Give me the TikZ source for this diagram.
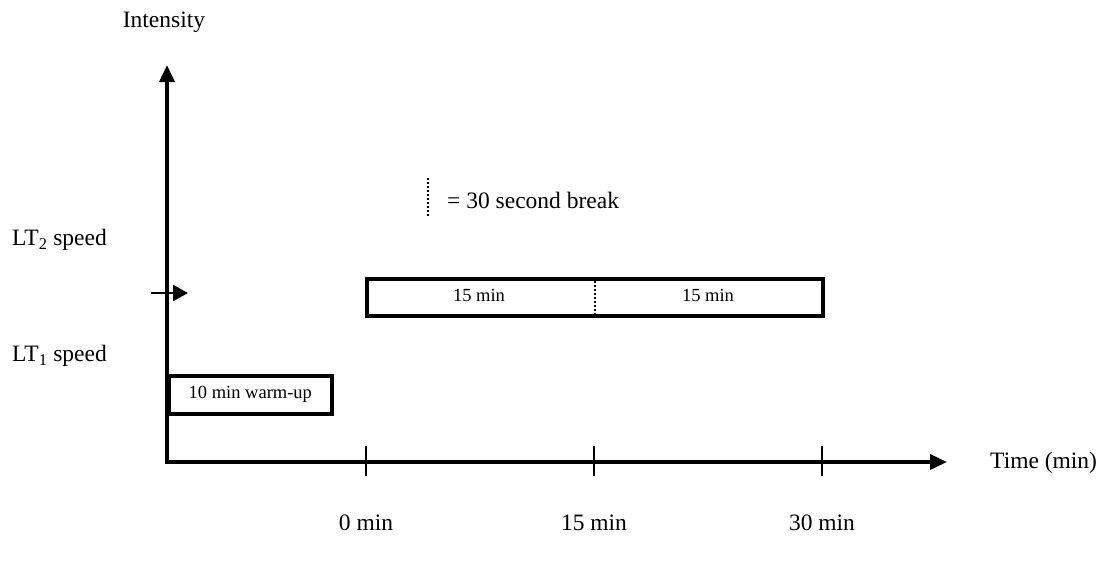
\documentclass[tikz,border=0pt]{standalone}
\usepackage{fontspec}
\setmainfont{Liberation Serif}
\usetikzlibrary{arrows.meta}
\begin{document}
\begin{tikzpicture}[x=1pt,y=-1pt,
  big/.style={font=\fontsize{23.5}{28}\selectfont, inner sep=0pt},
  small/.style={font=\fontsize{18.5}{22}\selectfont, inner sep=0pt},
  axis/.style={line width=3.6pt, -{Triangle[length=17pt,width=15pt]}},
  stage/.style={draw, line width=3.6pt, inner sep=0pt},
  tick/.style={line width=2.4pt},
  breakline/.style={line width=2pt, dash pattern=on 2pt off 2pt}]
\useasboundingbox (0,0) rectangle (1107,563);

% axes
\coordinate (origin) at (167,462);
\coordinate (ytop) at (167,65);
\coordinate (xend) at (947,462);
\draw[axis] (origin) -- (ytop);
\draw[axis, shorten <=-1.8pt] (origin) -- (xend);

% axis titles
\node[big] (ylabel) at (164,22) {Intensity};
\node[big, anchor=west] (xlabel) at (990,463) {Time (min)};
\node[big, anchor=west] (lt2) at (12,240) {LT\textsubscript{2} speed};
\node[big, anchor=west] (lt1) at (12,356) {LT\textsubscript{1} speed};

% time ticks and their labels
\foreach \x/\t [count=\i] in {366/0 min, 594/15 min, 822/30 min} {
  \coordinate (tk\i) at (\x,462);
  \draw[tick] ([yshift=-14pt]tk\i) -- ([yshift=16pt]tk\i);
  \node[big] (tl\i) at (\x,523) {\t};
}

% marker arrow on the intensity axis
\coordinate (mkstart) at (151,293);
\coordinate (mkend) at (188,293);
\draw[line width=2.6pt, -{Triangle[length=15pt,width=16pt]}] (mkstart) -- (mkend);

% warm-up stage
\node[stage, minimum width=163pt, minimum height=38pt, anchor=north west] (warm) at (167,374) {};
\node[small] (warmtxt) at (warm.center) {10 min warm-up};

% main 30 min stage split in two halves
\node[stage, minimum width=456pt, minimum height=37pt, anchor=north west] (main) at (365,277) {};
\draw[breakline] (main.north) -- (main.south);
\node[small] (half1) at (479,295.5) {15 min};
\node[small] (half2) at (708,295.5) {15 min};

% legend
\coordinate (lgtop) at (428,178);
\coordinate (lgbot) at (428,217);
\draw[breakline] (lgtop) -- (lgbot);
\node[big, anchor=west] (lgtxt) at (447,200) {= 30 second break};
\end{tikzpicture}
\end{document}
